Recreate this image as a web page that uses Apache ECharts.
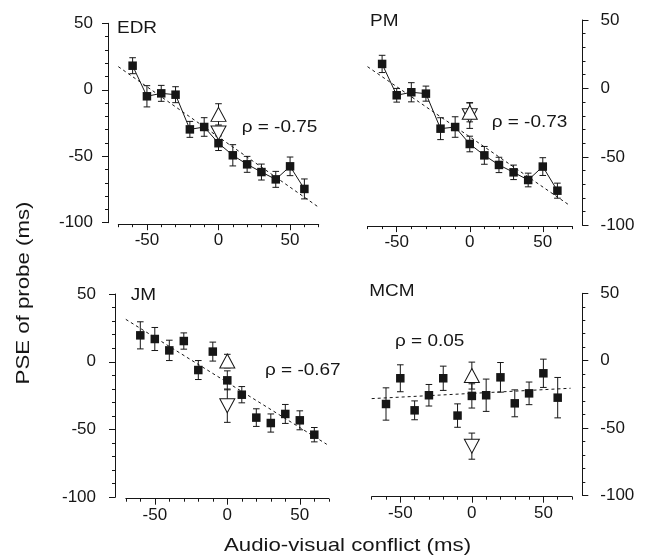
<!DOCTYPE html>
<html><head><meta charset="utf-8">
<script src="https://cdn.jsdelivr.net/npm/echarts@6/dist/echarts.min.js"></script>
<style>html,body{margin:0;padding:0;background:#fff}#c{width:651px;height:560px}</style>
</head><body><div id="c"></div>
<script>
// ---- data ----
const conflicts = [-60, -50, -40, -30, -20, -10, 0, 10, 20, 30, 40, 50, 60];

const edrMean = [18.1, -4.9, -2.7, -3.7, -29.8, -28.0, -40.2, -49.3, -56.1, -61.9, -67.4, -57.6, -74.6];
const edrErr  = [6, 8, 6, 6, 6, 7, 5.5, 8, 6, 6, 6, 7, 7.5];
const edrUp   = [0, -18.5, 8];
const edrDown = [0, -32.5, 5];
const edrFit  = [[-70, 17.4], [70, -88.4]];

const pmMean = [17.9, -5.0, -2.8, -3.8, -29.4, -28.2, -40.6, -48.9, -55.9, -61.3, -66.9, -57.1, -74.7];
const pmErr  = [6.3, 5, 7, 5.5, 8, 7.5, 5.7, 6.5, 5.6, 5.3, 5, 6.5, 5.5];
const pmUp   = [0, -17.4, 7];
const pmDown = [0, -19.9, 9.3];
const pmFit  = [[-70, 15.9], [68.6, -85.6]];

const jmMean = [19.5, 16.8, 8.4, 15.3, -6.1, 7.5, -13.7, -24.3, -41.2, -45.2, -38.5, -43.2, -53.8];
const jmErr  = [10, 8.5, 7.5, 6, 7, 7, 7, 6, 6.5, 6.7, 7, 7, 5.3];
const jmUp   = [0, 0.5, 5];
const jmDown = [0, -32.4, 12.3];
const jmFit  = [[-70, 31.3], [68.6, -60.9]];

const mcmMean = [-32.2, -13.1, -36.9, -25.7, -13.1, -40.8, -26.2, -25.7, -12.4, -31.7, -24.3, -9.4, -27.5];
const mcmErr  = [12, 10, 7, 8, 9, 8.7, 9, 12, 11, 10, 8.4, 10.5, 15];
const mcmUp   = [0, -11.1, 10];
const mcmDown = [0, -63.5, 9.7];
const mcmFit  = [[-70, -28.2], [69, -20.5]];

const panelNames = ['EDR', 'PM', 'JM', 'MCM'];
const rhoTexts = ['\u03c1 = -0.75', '\u03c1 = -0.73', '\u03c1 = -0.67', '\u03c1 = 0.05'];
const xLabelValues = [-50, 0, 50];
const xTitle = 'Audio-visual conflict (ms)';
const yTitle = 'PSE of probe (ms)';

// ---- layout ----
const panels = [
  {mean: edrMean, err: edrErr, up: edrUp, down: edrDown, fit: edrFit, connect: true,
   grid: {left: 118.3, top: 23.3, width: 200.4, height: 199.4}, yPos: 'left', yOff: 10.3, xOff: 1.5, yMargin: 15,
   name: [117, 28.3], rho: [241.7, 127.5]},
  {mean: pmMean, err: pmErr, up: pmUp, down: pmDown, fit: pmFit, connect: true,
   grid: {left: 367.5, top: 20, width: 204.5, height: 205.3}, yPos: 'right', yOff: 10.5, xOff: 0.8, yMargin: 18,
   name: [370, 21.3], rho: [491.7, 122.5]},
  {mean: jmMean, err: jmErr, up: jmUp, down: jmDown, fit: jmFit, connect: false,
   grid: {left: 125.8, top: 294, width: 203, height: 203.3}, yPos: 'left', yOff: 10.8, xOff: 1.4, yMargin: 19,
   name: [130.7, 295], rho: [265, 370]},
  {mean: mcmMean, err: mcmErr, up: mcmUp, down: mcmDown, fit: mcmFit, connect: false,
   grid: {left: 371.7, top: 293.3, width: 200.3, height: 202}, yPos: 'right', yOff: 10.3, xOff: 1.4, yMargin: 18,
   name: [369.3, 291], rho: [395, 341]}
];

const INK = '#161616';
const FONT = '"Liberation Sans", Arial, Helvetica, sans-serif';

function errRenderItem(params, api) {
  const x = api.value(0), m = api.value(1), e = api.value(2);
  const t = api.coord([x, m + e]);
  const b = api.coord([x, m - e]);
  const hw = 3.3;
  const st = {stroke: INK, lineWidth: 1, fill: null};
  return {type: 'group', children: [
    {type: 'line', shape: {x1: t[0], y1: t[1], x2: b[0], y2: b[1]}, style: st},
    {type: 'line', shape: {x1: t[0] - hw, y1: t[1], x2: t[0] + hw, y2: t[1]}, style: st},
    {type: 'line', shape: {x1: b[0] - hw, y1: b[1], x2: b[0] + hw, y2: b[1]}, style: st}
  ]};
}

const grids = [], xAxes = [], yAxes = [], series = [], graphics = [];

panels.forEach((p, i) => {
  grids.push(Object.assign({containLabel: false}, p.grid));
  const xi = 2 * i, yi = 2 * i;
  // main x axis (labels + long ticks)
  xAxes.push({
    type: 'value', gridIndex: i, min: -70, max: 70, interval: 10, position: 'bottom', offset: p.xOff,
    axisLine: {show: true, onZero: false, lineStyle: {color: INK, width: 1}},
    axisTick: {show: true, length: 6, customValues: xLabelValues, lineStyle: {color: INK}},
    axisLabel: {show: true, customValues: xLabelValues, margin: 8, color: INK, fontSize: 17, fontFamily: FONT,
      formatter: v => (v % 50 === 0 ? String(v) : '')},
    splitLine: {show: false}
  });
  // minor x axis (short ticks every 10)
  xAxes.push({
    type: 'value', gridIndex: i, min: -70, max: 70, interval: 10, position: 'bottom', offset: p.xOff,
    axisLine: {show: false, onZero: false},
    axisTick: {show: true, length: 3, lineStyle: {color: INK}},
    axisLabel: {show: false}, splitLine: {show: false}
  });
  // main y axis
  yAxes.push({
    type: 'value', gridIndex: i, min: -100, max: 50, interval: 50, position: p.yPos, offset: p.yOff,
    axisLine: {show: true, onZero: false, lineStyle: {color: INK, width: 1}},
    axisTick: {show: true, length: 6, lineStyle: {color: INK}},
    axisLabel: {show: true, margin: p.yMargin, color: INK, fontSize: 17, fontFamily: FONT},
    splitLine: {show: false}
  });
  // minor y axis
  yAxes.push({
    type: 'value', gridIndex: i, min: -100, max: 50, interval: 10, position: p.yPos, offset: p.yOff,
    axisLine: {show: false, onZero: false},
    axisTick: {show: true, length: 3, lineStyle: {color: INK}},
    axisLabel: {show: false}, splitLine: {show: false}
  });

  const pts = conflicts.map((x, k) => [x, p.mean[k]]);
  const errData = conflicts.map((x, k) => [x, p.mean[k], p.err[k]]).concat([p.up, p.down]);

  series.push({type: 'line', xAxisIndex: xi, yAxisIndex: yi, data: p.fit, symbol: 'none', silent: true,
    lineStyle: {color: INK, width: 1, type: [3, 3]}, z: 2});
  if (p.connect) {
    series.push({type: 'line', xAxisIndex: xi, yAxisIndex: yi, data: pts, symbol: 'none', silent: true,
      lineStyle: {color: INK, width: 1}, z: 2});
  }
  series.push({type: 'custom', xAxisIndex: xi, yAxisIndex: yi, data: errData, renderItem: errRenderItem,
    encode: {x: 0, y: 1}, z: 3, silent: true});
  series.push({type: 'scatter', xAxisIndex: xi, yAxisIndex: yi, data: [p.down.slice(0, 2)], symbol: 'triangle',
    symbolSize: [15, 14], symbolRotate: 180, itemStyle: {color: '#fff', borderColor: INK, borderWidth: 1, opacity: 1}, z: 4});
  series.push({type: 'scatter', xAxisIndex: xi, yAxisIndex: yi, data: pts, symbol: 'rect', symbolSize: 8.5,
    itemStyle: {color: INK, opacity: 1}, z: 5});
  series.push({type: 'scatter', xAxisIndex: xi, yAxisIndex: yi, data: [p.up.slice(0, 2)], symbol: 'triangle',
    symbolSize: [15, 14], itemStyle: {color: '#fff', borderColor: INK, borderWidth: 1, opacity: 1}, z: 6});

  graphics.push({type: 'text', x: p.name[0], y: p.name[1], scaleX: 1.15, z: 10,
    style: {text: panelNames[i], fill: INK, font: '16.5px ' + FONT, align: 'left', verticalAlign: 'middle'}});
  graphics.push({type: 'text', x: p.rho[0], y: p.rho[1], scaleX: 1.15, z: 10,
    style: {text: rhoTexts[i], fill: INK, font: '16.5px ' + FONT, align: 'left', verticalAlign: 'middle'}});
});

graphics.push({type: 'text', x: 347.5, y: 546, scaleX: 1.17, z: 10,
  style: {text: xTitle, fill: INK, font: '19px ' + FONT, align: 'center', verticalAlign: 'middle'}});
graphics.push({type: 'text', x: 24, y: 293, rotation: Math.PI / 2, scaleX: 1.17, z: 10,
  style: {text: yTitle, fill: INK, font: '19px ' + FONT, align: 'center', verticalAlign: 'middle'}});

const chart = echarts.init(document.getElementById('c'), null, {renderer: 'canvas'});
chart.setOption({
  animation: false,
  backgroundColor: '#fff',
  grid: grids,
  xAxis: xAxes,
  yAxis: yAxes,
  series: series,
  graphic: {elements: graphics}
});
</script>
</body></html>
